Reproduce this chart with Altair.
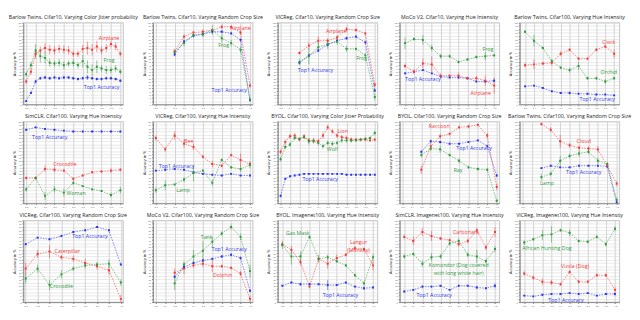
import altair as alt
import pandas as pd

RED = "#f23a3a"
GREEN = "#2f9a3c"
BLUE = "#2b36ea"

X_JITTER = [0.0, 0.05, 0.1, 0.15, 0.2, 0.25, 0.3, 0.35, 0.4, 0.45, 0.5,
            0.55, 0.6, 0.65, 0.7, 0.75, 0.8, 0.85, 0.9, 0.95, 1.0]
X_HUE = [0.0, 0.1, 0.2, 0.3, 0.4, 0.5, 0.6, 0.7, 0.8, 0.9, 1.0]
X_CROP = [0.2, 0.3, 0.4, 0.5, 0.6, 0.7, 0.8, 0.9, 1.0]
Y_TICKS = [0, 4, 8, 12, 16, 20, 24, 28, 32, 36, 40, 44, 48, 52, 56, 60, 64, 68, 72, 76, 80, 84, 88, 92, 96, 100]

# Panel 1
P1_TITLE = "Barlow Twins, Cifar10, Varying Color Jitter probability"
P1_TOP1 = [4, 14, 28, 32, 33, 32, 33, 32, 33, 33, 32, 31, 32, 33, 32, 31, 31, 32, 32, 31, 29]
P1_TOP1_ERR = [1, 1, 2, 2, 2, 2, 2, 2, 2, 2, 2, 2, 2, 3, 2, 2, 2, 2, 2, 2, 2]
P1_A = [28, 40, 62, 66, 69, 67, 66, 68, 67, 66, 62, 62, 68, 69, 67, 71, 66, 69, 74, 71, 62]
P1_A_ERR = [3, 4, 6, 5, 6, 6, 5, 5, 5, 5, 4, 4, 5, 8, 7, 7, 5, 5, 4, 5, 3]
P1_B = [37, 48, 66, 59, 57, 51, 50, 51, 48, 50, 51, 48, 53, 46, 42, 46, 44, 42, 42, 44, 40]
P1_B_ERR = [3, 4, 8, 8, 7, 5, 4, 5, 5, 4, 5, 4, 8, 8, 7, 8, 4, 5, 4, 4, 3]
P1_LABELS = [("Airplane", 0.88, 81, "a"), ("Frog", 0.88, 54, "b"), ("Top1 Accuracy", 0.8, 21, "t")]

# Panel 2
P2_TITLE = "Barlow Twins, Cifar10, Varying Random Crop Size"
P2_TOP1 = [61, 77, 84, 86, 89, 89, 87, 79, 5]
P2_TOP1_ERR = [2, 2, 2, 2, 2, 2, 2, 2, 1]
P2_A = [65, 83, 88, 89, 91, 95, 95, 88, 23]
P2_A_ERR = [3, 3, 2, 3, 2, 3, 2, 3, 3]
P2_B = [64, 75, 85, 86, 91, 81, 75, 67, 6]
P2_B_ERR = [3, 4, 3, 4, 6, 5, 4, 4, 2]
P2_LABELS = [("Airplane", 0.9, 93, "a"), ("Frog", 0.72, 73, "b"), ("Top1 Accuracy", 0.78, 17, "t")]

# Panel 3
P3_TITLE = "VICReg, Cifar10, Varying Random Crop Size"
P3_TOP1 = [51, 60, 66, 73, 78, 81, 83, 76, 17]
P3_TOP1_ERR = [2, 2, 2, 2, 2, 2, 2, 2, 2]
P3_A = [63, 72, 78, 78, 82, 92, 91, 87, 24]
P3_A_ERR = [2, 4, 5, 3, 3, 3, 2, 2, 3]
P3_B = [52, 59, 70, 74, 77, 68, 68, 60, 9]
P3_B_ERR = [4, 10, 6, 6, 4, 4, 2, 3, 4]
P3_LABELS = [("Airplane", 0.59, 90, "a"), ("Frog", 0.86, 57, "b"), ("Top1 Accuracy", 0.37, 42, "t")]

# Panel 4
P4_TITLE = "MoCo V2, Cifar10, Varying Hue Intensity"
P4_TOP1 = [38, 40, 42, 38, 34, 33, 33, 32, 28, 28, 29]
P4_TOP1_ERR = [1, 1, 1, 1, 1, 1, 1, 1, 1, 1, 2]
P4_A = [47, 40, 50, 49, 35, 35, 35, 32, 32, 29, 23]
P4_A_ERR = [3, 3, 6, 10, 3, 2, 4, 2, 3, 6, 10]
P4_B = [75, 80, 79, 69, 59, 59, 52, 55, 58, 59, 60]
P4_B_ERR = [7, 2, 6, 4, 3, 2, 2, 2, 2, 5, 2]
P4_LABELS = [("Frog", 0.93, 68, "b"), ("Top1 Accuracy", 0.2, 31, "t"), ("Airplane", 0.85, 14, "a")]

# Panel 5
P5_TITLE = "Barlow Twins, Cifar100, Varying Hue Intensity"
P5_TOP1 = [22, 23, 20, 16, 14, 14, 13, 13, 12, 12, 11]
P5_TOP1_ERR = [1, 1, 1, 1, 1, 2, 1, 1, 1, 1, 1]
P5_A = [48, 49, 50, 51, 62, 67, 56, 56, 67, 71, 62]
P5_A_ERR = [3, 6, 2, 3, 3, 2, 2, 2, 2, 2, 5]
P5_B = [89, 78, 69, 53, 45, 42, 47, 32, 32, 28, 32]
P5_B_ERR = [2, 7, 2, 3, 2, 3, 5, 2, 2, 3, 2]
P5_LABELS = [("Clock", 0.94, 76, "a"), ("Orchid", 0.94, 40, "b"), ("Top1 Accuracy", 0.81, 6, "t")]

# Panel 6
P6_TITLE = "SimCLR, Cifar100, Varying Hue Intensity"
P6_TOP1 = [90, 93, 91, 90, 89, 88, 88, 88, 88, 88, 88]
P6_TOP1_ERR = [1, 1, 1, 1, 1, 1, 1, 1, 1, 1, 1]
P6_A = [31, 31, 42, 41, 40, 30, 34, 38, 39, 40, 41]
P6_A_ERR = [2, 2, 4, 3, 2, 2, 1, 1, 1, 3, 2]
P6_B = [17, 31, 9, 17, 13, 25, 21, 17, 15, 10, 16]
P6_B_ERR = [3, 2, 5, 4, 5, 3, 1, 1, 1, 3, 4]
P6_LABELS = [("Top1 Accuracy", 0.25, 81, "t"), ("Crocodile", 0.41, 48, "a"), ("Woman", 0.53, 12, "b")]

# Panel 7
P7_TITLE = "VICReg, Cifar100, Varying Hue Intensity"
P7_TOP1 = [40, 41, 42, 41, 38, 36, 35, 34, 36, 34, 34]
P7_TOP1_ERR = [1, 1, 1, 1, 1, 1, 1, 1, 1, 1, 1]
P7_A = [80, 66, 83, 73, 69, 57, 48, 46, 59, 53, 48]
P7_A_ERR = [3, 3, 5, 5, 4, 2, 4, 2, 2, 8, 3]
P7_B = [16, 22, 23, 29, 37, 40, 25, 53, 44, 42, 47]
P7_B_ERR = [3, 6, 1, 3, 10, 2, 4, 2, 2, 4, 4]
P7_LABELS = [("Bee", 0.35, 76, "a"), ("Top1 Accuracy", 0.22, 46, "t"), ("Lamp", 0.29, 16, "b")]

# Panel 8
P8_TITLE = "BYOL, Cifar100, Varying Color Jitter Probability"
P8_TOP1 = [9, 30, 33, 34, 35, 36, 36, 36, 36, 36, 36, 36, 36, 36, 35, 35, 35, 35, 35, 35, 35]
P8_TOP1_ERR = [2, 1, 1, 1, 1, 1, 1, 1, 1, 1, 1, 1, 1, 1, 1, 1, 1, 1, 1, 1, 1]
P8_A = [63, 75, 82, 83, 78, 82, 77, 77, 76, 83, 93, 88, 83, 81, 80, 78, 78, 78, 78, 77, 78]
P8_A_ERR = [3, 3, 3, 3, 2, 3, 3, 3, 3, 4, 3, 3, 3, 3, 3, 3, 2, 2, 2, 2, 2]
P8_B = [54, 69, 72, 80, 79, 81, 76, 76, 74, 70, 74, 73, 74, 77, 77, 77, 77, 78, 79, 80, 86]
P8_B_ERR = [3, 3, 3, 3, 2, 3, 4, 3, 3, 3, 3, 3, 3, 3, 3, 3, 2, 2, 2, 2, 3]
P8_LABELS = [("Lion", 0.66, 89, "a"), ("Wolf", 0.55, 66, "b"), ("Top1 Accuracy", 0.42, 30, "t")]

# Panel 9
P9_TITLE = "BYOL, Cifar100, Varying Random Crop Size"
P9_TOP1 = [63, 76, 75, 73, 73, 75, 77, 70, 34]
P9_TOP1_ERR = [2, 2, 2, 1, 1, 1, 1, 2, 2]
P9_A = [41, 70, 82, 85, 93, 94, 96, 83, 20]
P9_A_ERR = [5, 4, 3, 2, 2, 2, 2, 3, 4]
P9_B = [59, 67, 66, 59, 52, 44, 42, 41, 3]
P9_B_ERR = [3, 3, 4, 2, 3, 2, 2, 2, 2]
P9_LABELS = [("Raccoon", 0.39, 94, "a"), ("Top1 Accuracy", 0.76, 67, "t"), ("Ray", 0.59, 41, "b")]

# Panel 10
P10_TITLE = "Barlow Twins, Cifar100, Varying Random Crop Size"
P10_TOP1 = [43, 46, 44, 44, 46, 46, 46, 45, 1]
P10_TOP1_ERR = [1, 1, 1, 1, 1, 1, 1, 1, 1]
P10_A = [97, 90, 76, 71, 68, 67, 66, 46, 24]
P10_A_ERR = [2, 3, 8, 3, 3, 3, 4, 2, 3]
P10_B = [32, 36, 52, 58, 61, 63, 52, 48, 4]
P10_B_ERR = [4, 3, 6, 3, 4, 3, 4, 3, 3]
P10_LABELS = [("Cloud", 0.65, 76, "a"), ("Top1 Accuracy", 0.65, 38, "t"), ("Lamp", 0.26, 25, "b")]

# Panel 11
P11_TITLE = "VICReg, Cifar100, Varying Random Crop Size"
P11_TOP1 = [71, 79, 77, 81, 86, 88, 92, 88, 46]
P11_TOP1_ERR = [1, 1, 1, 1, 1, 1, 1, 1, 1]
P11_A = [41, 59, 62, 55, 53, 48, 44, 39, 4]
P11_A_ERR = [7, 5, 8, 3, 4, 5, 4, 5, 5]
P11_B = [29, 41, 21, 34, 41, 45, 46, 47, 24]
P11_B_ERR = [6, 5, 6, 5, 3, 4, 3, 5, 4]
P11_LABELS = [("Top1 Accuracy", 0.74, 81, "t"), ("Caterpillar", 0.55, 63, "a"), ("Crocodile", 0.5, 20, "b")]

# Panel 12
P12_TITLE = "MoCo V2, Cifar100, Varying Random Crop Size"
P12_TOP1 = [31, 43, 48, 51, 53, 56, 58, 54, 14]
P12_TOP1_ERR = [2, 2, 2, 2, 2, 2, 2, 2, 2]
P12_A = [36, 41, 45, 47, 44, 44, 42, 35, 4]
P12_A_ERR = [5, 7, 3, 4, 7, 2, 2, 3, 4]
P12_B = [23, 46, 56, 63, 74, 84, 92, 80, 38]
P12_B_ERR = [8, 4, 8, 12, 6, 3, 3, 4, 8]
P12_LABELS = [("Tank", 0.54, 80, "b"), ("Top1 Accuracy", 0.78, 65, "t"), ("Dolphin", 0.71, 33, "a")]

# Panel 13
P13_TITLE = "BYOL, Imagenet100, Varying Hue Intensity"
P13_TOP1 = [20, 24, 22, 22, 22, 21, 21, 24, 19, 17, 18]
P13_TOP1_ERR = [1, 1, 2, 1, 1, 6, 1, 1, 1, 2, 1]
P13_A = [71, 64, 49, 19, 53, 47, 54, 58, 66, 65, 45]
P13_A_ERR = [3, 5, 4, 2, 5, 6, 4, 2, 3, 2, 6]
P13_B = [70, 56, 56, 80, 53, 55, 50, 45, 33, 23, 55]
P13_B_ERR = [5, 10, 6, 2, 3, 3, 2, 2, 2, 3, 4]
P13_LABELS = [("Gas Mask", 0.17, 84, "b"), ("Langur", 0.84, 73, "a"), ("(Monkey)", 0.84, 64, "a"),
              ("Top1 Accuracy", 0.64, 9, "t")]

# Panel 14
P14_TITLE = "SimCLR, Imagenet100, Varying Hue Intensity"
P14_TOP1 = [13, 15, 19, 19, 20, 15, 20, 20, 18, 17, 20]
P14_TOP1_ERR = [1, 1, 2, 1, 1, 1, 1, 1, 2, 1, 3]
P14_A = [80, 75, 86, 81, 78, 76, 71, 75, 88, 67, 86]
P14_A_ERR = [3, 5, 5, 6, 2, 2, 3, 3, 3, 3, 6]
P14_B = [56, 59, 47, 55, 56, 72, 75, 58, 56, 50, 65]
P14_B_ERR = [3, 2, 4, 5, 3, 3, 3, 3, 8, 3, 4]
P14_LABELS = [("Komondor (Dog covered", 0.6, 45, "b"), ("with long white hair)", 0.6, 36, "b"),
              ("Carbonara", 0.68, 86, "a"), ("Top1 Accuracy", 0.33, 9, "t")]

# Panel 15
P15_TITLE = "VICReg, Imagenet100, Varying Hue Intensity"
P15_TOP1 = [8, 7, 9, 10, 10, 11, 10, 11, 8, 10, 10]
P15_TOP1_ERR = [1, 1, 1, 1, 1, 1, 1, 1, 1, 1, 2]
P15_A = [35, 30, 25, 24, 22, 37, 25, 25, 33, 33, 15]
P15_A_ERR = [3, 3, 4, 3, 2, 2, 2, 2, 2, 2, 3]
P15_B = [73, 77, 82, 83, 88, 85, 75, 74, 80, 71, 90]
P15_B_ERR = [3, 2, 6, 10, 2, 4, 2, 2, 2, 3, 3]
P15_LABELS = [("African Hunting Dog", 0.25, 66, "b"), ("Vizsla (Dog)", 0.56, 44, "a"), ("Top1 Accuracy", 0.46, 3, "t")]

W, H = 104, 85
FONT = "Open Sans"
color_scale = alt.Scale(domain=["a", "b", "t"], range=[RED, GREEN, BLUE])

X_AXIS = alt.Axis(values=X_HUE, labelFontSize=2.5, tickSize=1.5, labelPadding=1,
                  labelOverlap=False, labelFlush=False, grid=True,
                  gridColor="#bdbdbd", gridWidth=0.7, domainColor="#888", tickColor="#888", format=".1f")
Y_AXIS = alt.Axis(values=Y_TICKS, labelFontSize=2.2, tickSize=1.5, labelPadding=1,
                  labelOverlap=False, labelFlush=False, grid=True,
                  titleFontSize=4, titlePadding=1, titleFont=FONT, titleFontWeight="normal",
                  gridColor="#d9d9d9", gridWidth=0.6, domainColor="#888", tickColor="#888")


def make_panel(title, xs, top1, top1_err, a, a_err, b, b_err, labels, xdom):
    rows = []
    for key, vals, errs in (("t", top1, top1_err), ("a", a, a_err), ("b", b, b_err)):
        for x, v, e in zip(xs, vals, errs):
            rows.append({"x": x, "y": v, "lo": v - e, "hi": v + e, "s": key})
    df = pd.DataFrame(rows)
    xs_scale = alt.Scale(domain=xdom, nice=False)
    ys_scale = alt.Scale(domain=[0, 100], nice=False)

    def X(f):
        return alt.X(f, scale=xs_scale, title=None, axis=X_AXIS)

    def Y(f):
        return alt.Y(f, scale=ys_scale, title="Accuracy in %", axis=Y_AXIS)

    col = alt.Color("s:N", scale=color_scale, legend=None)
    base = alt.Chart(df)
    err = base.mark_rule(strokeWidth=0.7, opacity=0.75, clip=True).encode(
        x=X("x:Q"), y=Y("lo:Q"), y2="hi:Q", color=col)
    line = base.mark_line(strokeWidth=0.7, strokeDash=[1.6, 1.2], opacity=0.85, clip=True).encode(
        x=X("x:Q"), y=Y("y:Q"), color=col)
    pts = base.mark_square(size=4, opacity=1, clip=True).encode(x=X("x:Q"), y=Y("y:Q"), color=col)
    ldf = pd.DataFrame([{"text": t, "x": x, "y": y, "s": s} for t, x, y, s in labels])
    txt = alt.Chart(ldf).mark_text(fontSize=5.5, font=FONT).encode(
        x=X("x:Q"), y=Y("y:Q"), text="text:N", color=col)
    return alt.layer(err, line, pts, txt).properties(
        width=W, height=H,
        title=alt.TitleParams(title, fontSize=5.5, font=FONT, fontWeight="normal", offset=1.5, color="#222"))


panels = [
    make_panel(P1_TITLE, X_JITTER, P1_TOP1, P1_TOP1_ERR, P1_A, P1_A_ERR, P1_B, P1_B_ERR, P1_LABELS, [-0.03, 1.03]),
    make_panel(P2_TITLE, X_CROP, P2_TOP1, P2_TOP1_ERR, P2_A, P2_A_ERR, P2_B, P2_B_ERR, P2_LABELS, [-0.03, 1.03]),
    make_panel(P3_TITLE, X_CROP, P3_TOP1, P3_TOP1_ERR, P3_A, P3_A_ERR, P3_B, P3_B_ERR, P3_LABELS, [-0.03, 1.03]),
    make_panel(P4_TITLE, X_HUE, P4_TOP1, P4_TOP1_ERR, P4_A, P4_A_ERR, P4_B, P4_B_ERR, P4_LABELS, [-0.06, 1.06]),
    make_panel(P5_TITLE, X_HUE, P5_TOP1, P5_TOP1_ERR, P5_A, P5_A_ERR, P5_B, P5_B_ERR, P5_LABELS, [-0.06, 1.06]),
    make_panel(P6_TITLE, X_HUE, P6_TOP1, P6_TOP1_ERR, P6_A, P6_A_ERR, P6_B, P6_B_ERR, P6_LABELS, [-0.03, 1.03]),
    make_panel(P7_TITLE, X_HUE, P7_TOP1, P7_TOP1_ERR, P7_A, P7_A_ERR, P7_B, P7_B_ERR, P7_LABELS, [-0.03, 1.03]),
    make_panel(P8_TITLE, X_JITTER, P8_TOP1, P8_TOP1_ERR, P8_A, P8_A_ERR, P8_B, P8_B_ERR, P8_LABELS, [-0.03, 1.03]),
    make_panel(P9_TITLE, X_CROP, P9_TOP1, P9_TOP1_ERR, P9_A, P9_A_ERR, P9_B, P9_B_ERR, P9_LABELS, [-0.03, 1.03]),
    make_panel(P10_TITLE, X_CROP, P10_TOP1, P10_TOP1_ERR, P10_A, P10_A_ERR, P10_B, P10_B_ERR, P10_LABELS, [-0.03, 1.03]),
    make_panel(P11_TITLE, X_CROP, P11_TOP1, P11_TOP1_ERR, P11_A, P11_A_ERR, P11_B, P11_B_ERR, P11_LABELS, [0.18, 1.02]),
    make_panel(P12_TITLE, X_CROP, P12_TOP1, P12_TOP1_ERR, P12_A, P12_A_ERR, P12_B, P12_B_ERR, P12_LABELS, [-0.03, 1.03]),
    make_panel(P13_TITLE, X_HUE, P13_TOP1, P13_TOP1_ERR, P13_A, P13_A_ERR, P13_B, P13_B_ERR, P13_LABELS, [-0.05, 1.05]),
    make_panel(P14_TITLE, X_HUE, P14_TOP1, P14_TOP1_ERR, P14_A, P14_A_ERR, P14_B, P14_B_ERR, P14_LABELS, [-0.05, 1.05]),
    make_panel(P15_TITLE, X_HUE, P15_TOP1, P15_TOP1_ERR, P15_A, P15_A_ERR, P15_B, P15_B_ERR, P15_LABELS, [-0.05, 1.05]),
]

chart = alt.concat(*panels, columns=5, spacing=3).properties(padding=0).configure_view(
    stroke="#999", strokeWidth=0.6).configure_axis(labelColor="#555", labelFont=FONT)

chart.save("out.html", embed_options={"renderer": "svg", "actions": False})
